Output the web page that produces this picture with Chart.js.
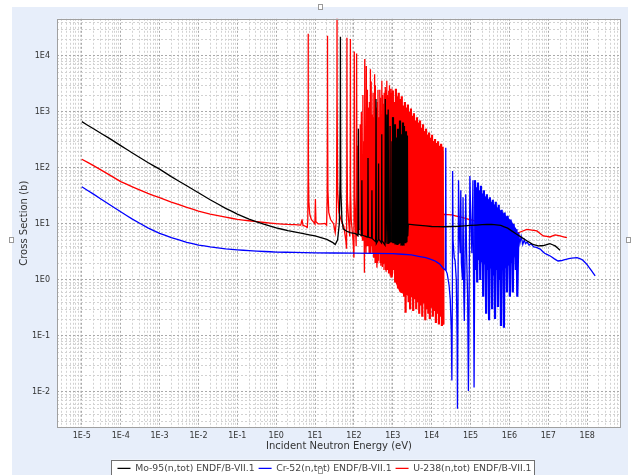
<!DOCTYPE html>
<html>
<head>
<meta charset="utf-8">
<script src="https://cdn.jsdelivr.net/npm/chart.js@4/dist/chart.umd.min.js"></script>
<style>
html,body{margin:0;padding:0;background:#fff;overflow:hidden;width:633px;height:475px;}
#panel{position:absolute;left:12px;top:7px;width:616px;height:490px;background:#e7eefa;}
canvas{display:block;}
.h{position:absolute;width:3px;height:4px;border:1px solid #9a9a9a;background:#fff;}
</style>
</head>
<body>
<div id="panel"><canvas id="c" width="616" height="490"></canvas></div>
<div class="h" style="left:318px;top:4px"></div>
<div class="h" style="left:9px;top:237px"></div>
<div class="h" style="left:626px;top:237px"></div>
<div class="h" style="left:318px;top:468px"></div>
<script>
const FONT='DejaVu Sans';

const xTickValues=[1e-5,1e-4,1e-3,1e-2,1e-1,1e0,1e1,1e2,1e3,1e4,1e5,1e6,1e7,1e8];
const xTickLabels=['1E-5','1E-4','1E-3','1E-2','1E-1','1E0','1E1','1E2','1E3','1E4','1E5','1E6','1E7','1E8'];
const yTickValues=[1e-2,1e-1,1e0,1e1,1e2,1e3,1e4];
const yTickLabels=['1E-2','1E-1','1E0','1E1','1E2','1E3','1E4'];
const seriesNames=['Mo-95(n,tot) ENDF/B-VII.1','Cr-52(n,tot) ENDF/B-VII.1','U-238(n,tot) ENDF/B-VII.1'];
const seriesColors=['#000000','#0000ff','#ff0000'];

// [energy eV, cross section b]
const mo95=[
[1e-5,670],[2e-5,500],[5e-5,340],[1e-4,250],[2e-4,185],[5e-4,125],[1e-3,95],[2e-3,70],[5e-3,48],[1e-2,36],[2e-2,27],[5e-2,19],[0.1,15],[0.2,12.2],[0.5,9.8],[1,8.5],[2,7.6],[5,6.7],[10,6.1],[20,5.3],[28,4.7],[33,4.3],[38,5.2],[42,10],[44,60],[44.7,2000],[44.9,22000],[45.1,2000],[46,40],[49,12],[53,8.2],[65,7.4],[80,7],[110,6.7],
[127,6.2],[130,500],[133,6.6],[157,6.2],[160,60],[163,6.3],[226,5.8],[230,150],[234,5.8],[285,5.6],[290,40],[295,5.5],[362,4.8],[370,1700],[377,4.5],[422,5.2],[430,120],[438,5.3],[510,4.6],[520,400],[530,5],[628,4.2],[640,1700],[652,4.6],[700,900],[715,4.4],[760,1100],[780,4.5],[835,4.7],[850,560],[865,4.8],[935,4.9],[950,300],[970,4.6],
[1010,800],[1040,4.5],[1070,250],[1100,4.9],[1135,600],[1170,4.3],[1205,180],[1240,4.7],[1280,350],[1320,4.2],[1360,500],[1400,4.4],[1440,470],[1485,4.8],[1530,700],[1575,4.5],[1620,300],[1670,4.1],[1720,400],[1770,4.8],[1825,650],[1880,4.1],[1935,560],[1995,4.6],[2055,300],[2115,4.5],[2180,450],[2245,4.7],[2310,380],[2360,6],
[2500,9.9],[5000,9.4],[1e4,9.0],[2e4,8.9],[5e4,9.1],[1e5,9.4],[2e5,9.7],[3.5e5,9.85],[6e5,9.4],[9e5,8.4],[1.5e6,6.6],[2.8e6,5.0],[4e6,4.3],[5.5e6,4.05],[7.5e6,4.1],[1.1e7,4.45],[1.5e7,4.05],[2e7,3.4]
];

const cr52=[
[1e-5,46],[2e-5,34],[5e-5,22.5],[1e-4,16.5],[2e-4,12.2],[5e-4,8.5],[1e-3,6.8],[2e-3,5.7],[5e-3,4.7],[1e-2,4.2],[2e-2,3.9],[5e-2,3.6],[0.1,3.45],[0.2,3.33],[0.5,3.22],[1,3.15],[3,3.1],[10,3.05],[100,3.0],[1000,2.95],[3000,2.8],[7000,2.5],[1.2e4,2.2],[1.6e4,1.93],[2e4,1.6],[2.25e4,1.5],[2.3e4,230],[2.35e4,1.45],[2.5e4,1.3],[2.8e4,0.8],[3.0e4,0.45],[3.2e4,0.12],[3.3e4,0.016],[3.4e4,0.5],[3.45e4,88],[3.55e4,5],[3.8e4,2.5],[4.0e4,2.2],[4.3e4,1.0],[4.5e4,0.1],[4.6e4,0.005],[4.75e4,0.5],[4.9e4,60],[5.1e4,8],[5.4e4,3],[5.6e4,40],[5.8e4,2],[6.2e4,1],[6.4e4,30],[6.7e4,0.5],[6.9e4,0.185],[7.2e4,2],[7.5e4,34],[7.9e4,3],[8.4e4,0.5],[8.8e4,0.0104],[9.2e4,0.6],[9.6e4,72],[1.02e5,10],[1.08e5,3],[1.15e5,60],[1.2e5,0.5],[1.23e5,0.012],[1.27e5,1],
[1.30e5,60],[1.36e5,1.5],[1.42e5,45],[1.48e5,0.9],[1.55e5,55],[1.62e5,2.5],[1.69e5,40],[1.77e5,1.0],[1.85e5,48],[1.93e5,3],[2.02e5,35],[2.11e5,0.5],[2.2e5,40],[2.3e5,2],[2.4e5,30],[2.51e5,0.25],[2.62e5,34],[2.74e5,1.5],[2.86e5,26],[2.99e5,0.19],[3.13e5,30],[3.27e5,2.2],[3.41e5,24],[3.57e5,0.3],[3.73e5,27],[3.9e5,1.2],[4.07e5,22],[4.25e5,0.2],[4.44e5,25],[4.64e5,2],[4.85e5,19],[5.07e5,0.33],[5.3e5,22],[5.54e5,1],[5.79e5,17],[6.05e5,0.15],[6.32e5,18],[6.6e5,1.5],[6.9e5,15],[7.21e5,0.14],[7.53e5,16],[7.87e5,2],[8.23e5,13],[8.6e5,0.6],[8.98e5,14],[9.39e5,2.2],[9.81e5,11.5],[1.025e6,0.5],[1.071e6,12],[1.12e6,2.5],[1.17e6,10],[1.22e6,0.6],[1.28e6,10],[1.33e6,3],[1.39e6,8.5],[1.46e6,1.5],[1.52e6,8],[1.59e6,0.5],
[1.7e6,7],[1.85e6,4.5],[2e6,6],[2.2e6,4.3],[2.4e6,5.2],[2.6e6,4.4],[2.8e6,4.8],[3.2e6,4.2],[3.6e6,4.4],[4.2e6,3.9],[5e6,3.8],[6.2e6,3.55],[8e6,3.0],[1.12e7,2.68],[1.4e7,2.4],[1.78e7,2.18],[2.2e7,2.22],[2.85e7,2.34],[4e7,2.45],[5.5e7,2.5],[7.5e7,2.3],[9.8e7,1.9],[1.3e8,1.45],[1.6e8,1.18]
];

const u238=[
[1e-5,143],[2e-5,110],[5e-5,76],[1e-4,57],[2e-4,46],[5e-4,35],[1e-3,29.5],[2e-3,24.5],[5e-3,19.8],[1e-2,17],[2e-2,15],[5e-2,13.2],[0.1,12.1],[0.2,11.4],[0.5,10.6],[1,10.1],[2,9.8],[3,9.7],
[4.3,9.5],[4.6,12],[4.9,9.4],
[5.8,9.0],[6.3,8.6],[6.5,12],[6.6,60],[6.65,800],[6.67,25000],[6.69,800],[6.75,80],[6.9,25],[7.3,15],[8,12],[9.5,10.5],
[9.9,10],[10.2,28],[10.5,11],[12,10],[15,10],[18,10.2],
[19.8,9.5],[20.5,30],[20.8,1000],[20.9,23000],[21.0,1000],[21.4,40],[22.5,16],[25,12],[30,10],[33,7],
[35.5,12],[36.5,2000],[36.7,60000],[36.9,2000],[38,40],[41,16],[48,11],
[55,9],[62,5],[64.5,3.6],[65.5,100],[66,21000],[66.5,300],[68,25],[72,13],
[78,6],[80,40],[81,20000],[82,40],[85,12],
[95,5],[100,2.5],[102,12000],[104,30],[108,12],
[114,4],[117,11000],[120,20],
[123,6],[125,250],[127,8],
[142,8],[145,600],[148,9],
[152,6],[155,1000],[158,7],
[167,5],[170,2000],[173,8],
[177,5],[180,300],[183,6],
[186,1.35],[189.7,8800],[194,10],
[204,3],[208.5,6600],[213,8],
[218,4],[222,2500],[226,6],
[232,4],[237,1200],[242,6],
[246,3],[250,1500],[255,5],
[260,3],[265,5800],[270,6],
[274,3],[278,3500],[283,5],
[286,4],[292,900],[298,5],
[305,3],[310,2200],[316,5],
[320,2.5],[325,800],[330,4],
[333,2.5],[340,4700],[347,4],
[350,2],[355,3000],[361,3],
[368,2],[375,1200],[382,3],
[390,1.66],[398,1500],[406,4],
[409,2],[415,2500],[422,3],
[428,2.2],[435,800],[442,3],
[454,3],[463,2500],[468,4],
[472,2],[480,1800],[488,3],
[493,1.8],[500,900],[506,3],
[512,2],[522,3600],[532,3],
[537,1.7],[545,2000],[553,2.5],
[556,2],[560,1000],[566,2.4],
[569,1.9],[580,1400],[592,3],
[594,1.5],[600,2200],[608,2],
[612,2],[620,1200],[626,2.5],
[628,2],[640,2800],[653,3],
[655,1.5],[660,1600],[667,2],
[672,1.4],[680,2500],[686,2],
[690,1.9],[700,3600],[714,3],
[718,1.5],[725,2000],[733,2],
[736,2.5],[740,1100],[748,2],
[752,1.5],[760,1800],[770,2],
[777,1.3],[785,2400],[793,2],
[796,1.5],[800,1200],[810,2],
[812,1.5],[820,3000],[832,2],
[838,1.3],[845,1800],[852,1.6],
[855,1.2],[860,2600],[870,1.6],
[873,1.2],[880,2200],[888,1.6],
[893,1.1],[900,2000],[910,1.5],
[913,1.2],[920,1500],[930,1.4],
[935,1.1],[945,2600],[955,1.3],
[958,1.1],[965,2200],[972,1.3],
[975,1.2],[980,1400],[990,1.3],
[1000,2400],[1050,1.5],[1100,1500],[1150,0.9],[1200,2600],[1250,2.0],[1300,1900],[1360,0.7],[1420,2200],[1480,1.2],[1550,1700],[1620,0.6],[1700,1900],[1780,0.9],[1860,1300],[1950,0.5],[2040,1500],[2130,0.26],[2230,1200],[2330,0.6],[2440,1350],[2550,0.4],[2670,1000],[2790,0.3],[2920,1150],[3050,0.5],[3190,850],[3340,0.28],[3490,950],[3650,0.45],[3820,700],[4000,0.3],[4180,800],[4370,0.4],[4570,620],[4780,0.25],[5000,700],[5230,0.35],[5470,520],[5720,0.22],[5980,600],[6250,0.38],[6540,450],[6840,0.19],[7150,500],[7480,0.3],[7820,380],[8180,0.25],[8550,430],[8940,0.2],[9350,340],[9780,0.32],[10200,390],[10700,0.22],[11200,300],[11700,0.28],[12200,330],[12800,0.17],[13400,280],[14000,0.25],[14600,300],[15300,0.16],[16000,250],[16700,0.22],[17500,270],[18300,0.15],[19100,240],[20000,0.16],
[20300,14.9],[3.3e4,14.5],[5e4,13.5],[9e4,12.1],[1.5e5,11],[3e5,9.5],[7e5,8],[1.5e6,6.7],[2.8e6,8.0],[5.1e6,7.5],[7.4e6,6.1],[1.1e7,5.85],[1.5e7,6.35],[2e7,6.1],[3e7,5.7]
];

// solid body of the unresolved bands (upper and lower edge of the filled part)
const uBandEnergy=[1100,1500,2800,5000,9200,16500,20000];
const uBandTop=[1400,1300,900,550,350,220,200];
const uBandBottom=[1.0,0.6,0.5,0.42,0.38,0.33,0.3];
const crBandEnergy=[1.3e5,2e5,3.7e5,6.8e5,1.15e6,1.5e6];
const crBandTop=[45,35,24,16,11,8];
const crBandBottom=[2.5,2,1.5,1.5,2,3];

const X_MIN=2.3e-6, X_MAX=7.4e8, Y_MIN=2.3e-3, Y_MAX=4.6e4;

// energy bands where the resonances are too close to resolve: drawn with a heavier pen
const denseBands=[[1000,2360],[1.3e5,1.6e6],[1000,20000]];

// band body painted right before the dataset it belongs to
const bands={
    1:{e:crBandEnergy,top:crBandTop,bottom:crBandBottom},
    2:{e:uBandEnergy,top:uBandTop,bottom:uBandBottom}
};

function toPoints(pairs) {
    return pairs.map(p=>({x:p[0],y:p[1]}));
}

// decades from the label arrays, 2..9 in between for the fine grid
function logTicks(scale,majors) {
    let ticks=majors.map(v=>({value:v,major:true}));
    for (let e=-6;e<=8;e++)
        for (let k=2;k<=9;k++) {
            let v=k*Math.pow(10,e);
            if (v>=scale.min && v<=scale.max) ticks.push({value:v,major:false});
        }
    ticks.sort((a,b)=>a.value-b.value);
    scale.ticks=ticks;
}

function gridColor(c) {
    return c.tick && c.tick.major ? '#a9a9a9' : '#d2d2d2';
}

const frame={
    id:'frame',
    beforeDraw(chart) {
        let ctx=chart.ctx, a=chart.chartArea;
        ctx.save();
        ctx.fillStyle='#fff';
        ctx.fillRect(a.left,a.top,a.right-a.left,a.bottom-a.top);
        let boxes=chart.legend.legendHitBoxes;
        if (boxes && boxes.length) {
            let l=Math.min(...boxes.map(b=>b.left)),
                r=Math.max(...boxes.map(b=>b.left+b.width)),
                t=boxes[0].top;
            ctx.fillRect(l-6,t-4,r-l+9,22);
            ctx.strokeStyle='#707070';
            ctx.lineWidth=1;
            ctx.strokeRect(Math.round(l-6)+0.5,Math.round(t-4)+0.5,Math.round(r-l+9),22);
        }
        ctx.restore();
    },
    beforeDatasetDraw(chart,args) {
        let band=bands[args.index];
        if (!band) return;
        let ctx=chart.ctx, x=chart.scales.x, y=chart.scales.y, a=chart.chartArea;
        ctx.save();
        ctx.beginPath();
        ctx.rect(a.left,a.top,a.right-a.left,a.bottom-a.top);
        ctx.clip();
        ctx.beginPath();
        band.e.forEach((e,i)=>ctx.lineTo(x.getPixelForValue(e),y.getPixelForValue(band.top[i])));
        for (let i=band.e.length-1;i>=0;i--)
            ctx.lineTo(x.getPixelForValue(band.e[i]),y.getPixelForValue(band.bottom[i]));
        ctx.closePath();
        ctx.fillStyle=seriesColors[args.index];
        ctx.fill();
        ctx.restore();
    },
    afterDraw(chart) {
        let ctx=chart.ctx, a=chart.chartArea;
        ctx.save();
        ctx.strokeStyle='#a0a0a0';
        ctx.lineWidth=1;
        ctx.strokeRect(Math.round(a.left)+0.5,Math.round(a.top)+0.5,Math.round(a.right-a.left)-1,Math.round(a.bottom-a.top)-1);
        ctx.restore();
    }
};

// tiny tension keeps every point (no per-pixel min/max path)
const datasets=[mo95,cr52,u238].map((d,i)=>({
    label:seriesNames[i],
    data:toPoints(d),
    borderColor:seriesColors[i],
    backgroundColor:seriesColors[i],
    borderWidth:1.3,
    pointRadius:0,
    fill:false,
    tension:0.0001,
    segment:{
        borderWidth:c=>{
            let e=c.p0.parsed.x, b=denseBands[i];
            return (e>=b[0] && e<b[1]) ? 2.2 : 1.3;
        }
    }
}));

new Chart(document.getElementById('c'),{
    type:'line',
    data:{datasets:datasets},
    plugins:[frame],
    options:{
        responsive:false,
        animation:false,
        devicePixelRatio:1,
        layout:{padding:{top:11,right:7,bottom:14,left:16}},
        plugins:{
            tooltip:{enabled:false},
            legend:{
                position:'bottom',
                labels:{
                    font:{family:FONT,size:9.3},
                    color:'#444',
                    usePointStyle:true,
                    pointStyle:'line',
                    pointStyleWidth:13,
                    padding:4
                }
            }
        },
        scales:{
            x:{
                type:'logarithmic',
                min:X_MIN,
                max:X_MAX,
                bounds:'data',
                afterBuildTicks:s=>logTicks(s,xTickValues),
                afterFit:s=>{s.height=32;},
                ticks:{
                    autoSkip:false,
                    maxRotation:0,
                    padding:3,
                    font:{family:FONT,size:8},
                    color:'#333',
                    callback:v=>{let i=xTickValues.indexOf(v);return i<0?'':xTickLabels[i];}
                },
                grid:{drawTicks:false,color:gridColor,lineWidth:1},
                border:{display:false,dash:[2,2]},
                title:{display:true,text:'Incident Neutron Energy (eV)',font:{family:FONT,size:10},color:'#333',padding:{top:0,bottom:7}}
            },
            y:{
                type:'logarithmic',
                min:Y_MIN,
                max:Y_MAX,
                bounds:'data',
                afterBuildTicks:s=>logTicks(s,yTickValues),
                afterFit:s=>{s.width=29;},
                ticks:{
                    autoSkip:false,
                    padding:7,
                    font:{family:FONT,size:8},
                    color:'#333',
                    callback:v=>{let i=yTickValues.indexOf(v);return i<0?'':yTickLabels[i];}
                },
                grid:{drawTicks:false,color:gridColor,lineWidth:1},
                border:{display:false,dash:[2,2]},
                title:{display:true,text:'Cross Section (b)',font:{family:FONT,size:10},color:'#333',padding:{top:-10,bottom:0}}
            }
        }
    }
});
</script>
</body>
</html>
